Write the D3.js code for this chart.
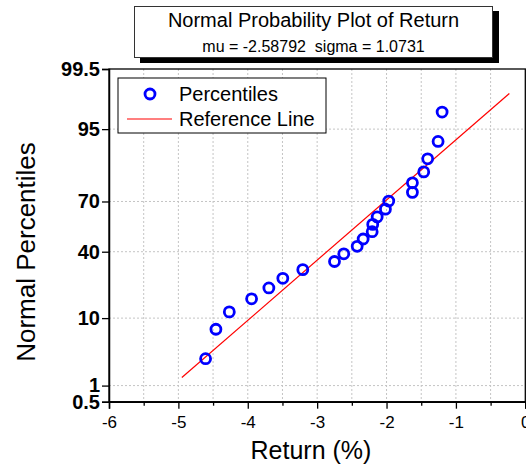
<!DOCTYPE html>
<html><head><meta charset="utf-8">
<script src="https://cdn.jsdelivr.net/npm/d3@7"></script>
<style>
html,body{margin:0;padding:0;background:#fff;}
svg{display:block;font-family:Arial,"Liberation Sans",sans-serif;}
</style></head>
<body>
<svg id="chart" width="526" height="467"></svg>
<script>
// ---- data ----
const returns = [-4.608,-4.459,-4.266,-3.945,-3.696,-3.495,-3.207,-2.750,-2.616,-2.423,-2.337,
                 -2.207,-2.199,-2.135,-2.016,-1.968,-1.627,-1.627,-1.464,-1.407,-1.257,-1.199];
const percentiles = [2.81,7.30,11.80,16.29,20.79,25.28,29.78,34.27,38.76,43.26,47.75,
                     52.25,56.74,61.24,65.73,70.22,74.72,79.21,83.71,88.20,92.70,97.19];
const mu = -2.58792, sigma = 1.0731;
const refLineX = [-4.95, -0.23];
const xTicks = [-6,-5,-4,-3,-2,-1,0];
const xMinorTicks = [-5.5,-4.5,-3.5,-2.5,-1.5,-0.5];
const yTicks = [0.5,1,10,40,70,95,99.5];
const yGrid = [1,10,40,70,95];
const yDomainPct = [0.5,99.5];
const titleText = "Normal Probability Plot of Return";
const subtitleText = "mu = -2.58792  sigma = 1.0731";
const legendLabels = ["Percentiles","Reference Line"];
const xLabel = "Return (%)", yLabel = "Normal Percentiles";

// inverse normal CDF (Acklam)
function probit(p){
  const a=[-3.969683028665376e+01,2.209460984245205e+02,-2.759285104469687e+02,1.383577518672690e+02,-3.066479806614716e+01,2.506628277459239e+00];
  const b=[-5.447609879822406e+01,1.615858368580409e+02,-1.556989798598866e+02,6.680131188771972e+01,-1.328068155288572e+01];
  const c=[-7.784894002430293e-03,-3.223964580411365e-01,-2.400758277161838e+00,-2.549732539343734e+00,4.374664141464968e+00,2.938163982698783e+00];
  const d=[7.784695709041462e-03,3.224671290700398e-01,2.445134137142996e+00,3.754408661907416e+00];
  const pl=0.02425, ph=1-pl; let q,r;
  if(p<pl){q=Math.sqrt(-2*Math.log(p));return (((((c[0]*q+c[1])*q+c[2])*q+c[3])*q+c[4])*q+c[5])/((((d[0]*q+d[1])*q+d[2])*q+d[3])*q+1);}
  if(p<=ph){q=p-0.5;r=q*q;return (((((a[0]*r+a[1])*r+a[2])*r+a[3])*r+a[4])*r+a[5])*q/(((((b[0]*r+b[1])*r+b[2])*r+b[3])*r+b[4])*r+1);}
  q=Math.sqrt(-2*Math.log(1-p));return -(((((c[0]*q+c[1])*q+c[2])*q+c[3])*q+c[4])*q+c[5])/((((d[0]*q+d[1])*q+d[2])*q+d[3])*q+1);
}
const z = p => probit(p/100);

const svg = d3.select("#chart");
const L=109, R=525.3, T=69, B=401.7;
const x = d3.scaleLinear().domain([-6,0]).range([L,R]);
const yz = d3.scaleLinear().domain(yDomainPct.map(z)).range([B,T]);
const y = p => yz(z(p));

// grid
const grid = svg.append("g").attr("stroke","#c4c4c4").attr("stroke-width",1).attr("stroke-dasharray","2,2");
grid.selectAll("line.v").data(xMinorTicks.concat(xTicks.filter(t=>t>-6&&t<0))).join("line")
  .attr("x1",d=>x(d)).attr("x2",d=>x(d)).attr("y1",T).attr("y2",B);
grid.selectAll("line.h").data(yGrid).join("line").attr("class","h")
  .attr("x1",L).attr("x2",R).attr("y1",d=>y(d)).attr("y2",d=>y(d));

// plot frame
svg.append("rect").attr("x",L).attr("y",T).attr("width",R-L).attr("height",B-T)
  .attr("fill","none").attr("stroke","#000").attr("stroke-width",1.3);

// x axis
const xAx = svg.append("g").attr("transform",`translate(0,${B})`)
  .call(d3.axisBottom(x).tickValues(xTicks).tickSize(7).tickPadding(7).tickFormat(d=>String(d)));
xAx.select(".domain").attr("stroke-width",1.5);
xAx.selectAll(".tick line").attr("stroke-width",1.3);
xAx.selectAll("text").attr("font-size",17).attr("font-family","Arial, 'Liberation Sans', sans-serif").attr("fill","#000");
const xMin = svg.append("g").attr("transform",`translate(0,${B})`)
  .call(d3.axisBottom(x).tickValues(xMinorTicks).tickSize(4).tickFormat(""));
xMin.select(".domain").remove();
xMin.selectAll(".tick line").attr("stroke-width",1.3);

// y axis
const yAx = svg.append("g").attr("transform",`translate(${L},0)`)
  .call(d3.axisLeft(yz).tickValues(yTicks.map(z)).tickSize(7).tickPadding(2)
    .tickFormat((d,i)=>String(yTicks[i])));
yAx.select(".domain").attr("stroke-width",1.5);
yAx.selectAll(".tick line").attr("stroke-width",1.3);
yAx.selectAll("text").attr("font-size",20).attr("font-weight","bold")
  .attr("font-family","Arial, 'Liberation Sans', sans-serif").attr("fill","#000");

// reference line
svg.append("path").datum(refLineX)
  .attr("d", d3.line().x(d=>x(d)).y(d=>yz((d-mu)/sigma)))
  .attr("stroke","#ff0000").attr("stroke-width",1.2).attr("fill","none");

// points
svg.append("g").selectAll("circle").data(returns.map((r,i)=>[r,percentiles[i]])).join("circle")
  .attr("cx",d=>x(d[0])).attr("cy",d=>y(d[1])).attr("r",5)
  .attr("fill","none").attr("stroke","#0000ff").attr("stroke-width",2.8);

// legend
const lg = svg.append("g");
lg.append("rect").attr("x",118).attr("y",78).attr("width",208).attr("height",55)
  .attr("fill","#fff").attr("stroke","#000").attr("stroke-width",1);
lg.append("circle").attr("cx",150).attr("cy",94).attr("r",5)
  .attr("fill","none").attr("stroke","#0000ff").attr("stroke-width",2.8);
lg.append("line").attr("x1",127).attr("x2",172).attr("y1",119).attr("y2",119)
  .attr("stroke","#ff0000").attr("stroke-width",1.2);
lg.selectAll("text").data(legendLabels).join("text")
  .attr("x",179).attr("y",(d,i)=>101+i*25).attr("font-size",20).text(d=>d);

// title box
svg.append("rect").attr("x",140).attr("y",11).attr("width",359).attr("height",52).attr("fill","#000");
svg.append("rect").attr("x",134.5).attr("y",6.5).attr("width",358).attr("height",51)
  .attr("fill","#fff").attr("stroke","#333").attr("stroke-width",1);
svg.append("text").attr("x",313.5).attr("y",27).attr("text-anchor","middle").attr("font-size",20).text(titleText);
svg.append("text").attr("x",313.5).attr("y",52).attr("text-anchor","middle").attr("font-size",16)
  .style("white-space","pre").text(subtitleText);

// axis titles
svg.append("text").attr("x",311).attr("y",459).attr("text-anchor","middle").attr("font-size",25).text(xLabel);
svg.append("text").attr("transform","translate(35,252) rotate(-90)").attr("text-anchor","middle")
  .attr("font-size",26).text(yLabel);
</script>
</body></html>
